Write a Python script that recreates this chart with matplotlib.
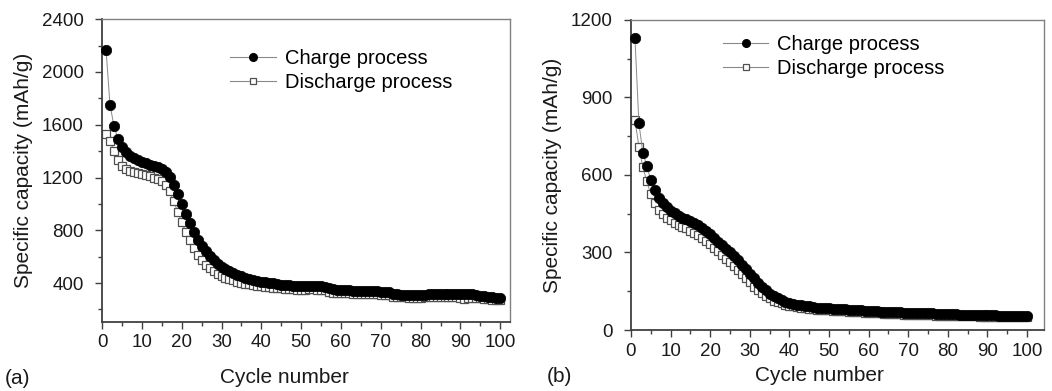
import matplotlib
matplotlib.use("Agg")
import matplotlib.pyplot as plt
from matplotlib.ticker import MultipleLocator
from matplotlib.lines import Line2D

plt.rcParams['font.family'] = ['Liberation Sans', 'DejaVu Sans']

cycles = list(range(1, 101))

a_charge = [2170, 1750, 1590, 1490, 1430, 1390, 1365, 1345, 1330, 1318,
            1308, 1298, 1288, 1276, 1262, 1240, 1205, 1145, 1075, 1000,
            925, 855, 790, 730, 680, 640, 605, 575, 548, 525,
            505, 488, 474, 462, 451, 441, 432, 424, 417, 411,
            406, 401, 397, 393, 389, 386, 383, 380, 378, 376,
            378, 379, 378, 376, 374, 370, 360, 352, 348, 346,
            345, 344, 343, 342, 341, 340, 339, 338, 337, 336,
            335, 330, 320, 315, 313, 312, 311, 310, 308, 306,
            312, 316, 318, 318, 318, 318, 318, 317, 316, 315,
            314, 315, 316, 310, 305, 300, 295, 292, 290, 288]
a_discharge = [1530, 1480, 1400, 1330, 1290, 1265, 1250, 1240, 1232, 1225,
               1218, 1210, 1200, 1188, 1172, 1145, 1095, 1020, 940, 860,
               790, 725, 665, 615, 575, 540, 512, 490, 470, 455,
               442, 430, 420, 411, 403, 396, 390, 385, 380, 376,
               372, 368, 365, 362, 359, 356, 354, 352, 350, 348,
               350, 352, 352, 350, 348, 345, 335, 328, 325, 323,
               322, 321, 320, 319, 318, 317, 316, 315, 314, 313,
               312, 308, 298, 294, 292, 291, 290, 289, 288, 286,
               292, 296, 298, 298, 298, 298, 298, 297, 296, 290,
               282, 285, 290, 288, 284, 280, 276, 273, 271, 270]

b_charge = [1130, 800, 685, 635, 580, 542, 510, 490, 475, 462,
            452, 443, 435, 428, 420, 413, 405, 395, 383, 370,
            356, 342, 328, 314, 300, 285, 270, 253, 236, 218,
            200, 183, 167, 153, 141, 131, 123, 116, 110, 105,
            101, 98, 95, 93, 91, 89, 87, 86, 85, 84,
            83, 82, 81, 80, 79, 78, 77, 76, 75, 74,
            73, 72, 71, 70, 70, 69, 68, 68, 67, 67,
            66, 66, 65, 65, 64, 64, 63, 63, 62, 62,
            61, 61, 60, 60, 59, 59, 58, 58, 58, 57,
            57, 57, 56, 56, 56, 55, 55, 55, 55, 55]
b_discharge = [813, 710, 630, 575, 525, 490, 465, 448, 435, 425,
               416, 408, 400, 393, 385, 377, 368, 357, 345, 332,
               318, 304, 290, 276, 262, 247, 232, 216, 200, 184,
               168, 154, 142, 131, 122, 114, 108, 103, 98, 94,
               91, 88, 86, 84, 82, 80, 79, 78, 77, 76,
               75, 74, 73, 72, 71, 70, 69, 68, 67, 66,
               65, 65, 64, 63, 63, 62, 61, 61, 60, 60,
               59, 59, 58, 58, 57, 57, 56, 56, 55, 55,
               55, 54, 54, 54, 53, 53, 53, 52, 52, 52,
               52, 51, 51, 51, 51, 50, 50, 50, 50, 50]

labels = ["Charge process", "Discharge process"]

fig = plt.figure(figsize=(10.52, 3.91), dpi=100)
ax1 = fig.add_axes([0.097, 0.1765, 0.388, 0.7745])
ax2 = fig.add_axes([0.5998, 0.156, 0.3927, 0.793])

line_c = '#8a8a8a'
txt_c = '#1a1a1a'
TICK_FS = 13.5
LABEL_FS = 15
LEG_FS = 14.5

def draw(ax, charge, discharge):
    ax.plot(cycles, discharge, color=line_c, lw=0.7, marker='s', ms=6.2,
            mfc='white', mec='#505050', mew=0.9, zorder=2, clip_on=False)
    ax.plot(cycles, charge, color=line_c, lw=0.7, marker='o', ms=7.5,
            mfc='black', mec='black', mew=0.5, zorder=3, clip_on=False)
    for side in ['left', 'bottom']:
        ax.spines[side].set_color('#404040')
        ax.spines[side].set_linewidth(1.3)
    for side in ['top', 'right']:
        ax.spines[side].set_color('#808080')
        ax.spines[side].set_linewidth(1.0)
    ax.tick_params(which='both', direction='out', colors='#404040',
                   labelcolor=txt_c, labelsize=TICK_FS, top=False, right=False)
    ax.tick_params(which='major', length=5, width=1.0)
    ax.tick_params(which='minor', length=3, width=1.0)
    ax.tick_params(axis='y', which='major', pad=8)
    ax.tick_params(axis='x', which='major', pad=4)
    ax.xaxis.set_major_locator(MultipleLocator(10))
    ax.xaxis.set_minor_locator(MultipleLocator(5))
    ax.set_xlabel("Cycle number", fontsize=LABEL_FS, color=txt_c)
    ax.set_ylabel("Specific capacity (mAh/g)", fontsize=LABEL_FS, color=txt_c)
    handles = [Line2D([], [], color=line_c, lw=0.8, marker='o', ms=5.5,
                      mfc='black', mec='black'),
               Line2D([], [], color=line_c, lw=0.8, marker='s', ms=5,
                      mfc='white', mec='#505050', mew=0.9)]
    return handles

h = draw(ax1, a_charge, a_discharge)
ax1.set_xlim(0, 102.5)
ax1.set_ylim(105, 2400)
ax1.yaxis.set_major_locator(MultipleLocator(400))
ax1.yaxis.set_minor_locator(MultipleLocator(200))
ax1.set_yticks([400, 800, 1200, 1600, 2000, 2400])
ax1.xaxis.set_label_coords(0.446, -0.152)
ax1.yaxis.set_label_coords(-0.169, 0.5)
ax1.legend(h, labels, loc='upper left', bbox_to_anchor=(0.314, 0.9),
           frameon=False, fontsize=LEG_FS, handlelength=2.25, handletextpad=0.45,
           labelspacing=0.25, borderpad=0, borderaxespad=0)

h = draw(ax2, b_charge, b_discharge)
ax2.set_xlim(0, 104.3)
ax2.set_ylim(0, 1200)
ax2.yaxis.set_major_locator(MultipleLocator(300))
ax2.yaxis.set_minor_locator(MultipleLocator(150))
ax2.xaxis.set_label_coords(0.455, -0.116)
ax2.yaxis.set_label_coords(-0.167, 0.5)
ax2.legend(h, labels, loc='upper left', bbox_to_anchor=(0.223, 0.95),
           frameon=False, fontsize=LEG_FS, handlelength=2.25, handletextpad=0.45,
           labelspacing=0.25, borderpad=0, borderaxespad=0)

fig.text(5 / 1052, 1 - 378 / 391, "(a)", fontsize=LABEL_FS, va='center', ha='left',
         color=txt_c)
fig.text(547 / 1052, 1 - 377 / 391, "(b)", fontsize=LABEL_FS, va='center', ha='left',
         color=txt_c)

fig.savefig("out.png", dpi=100)
